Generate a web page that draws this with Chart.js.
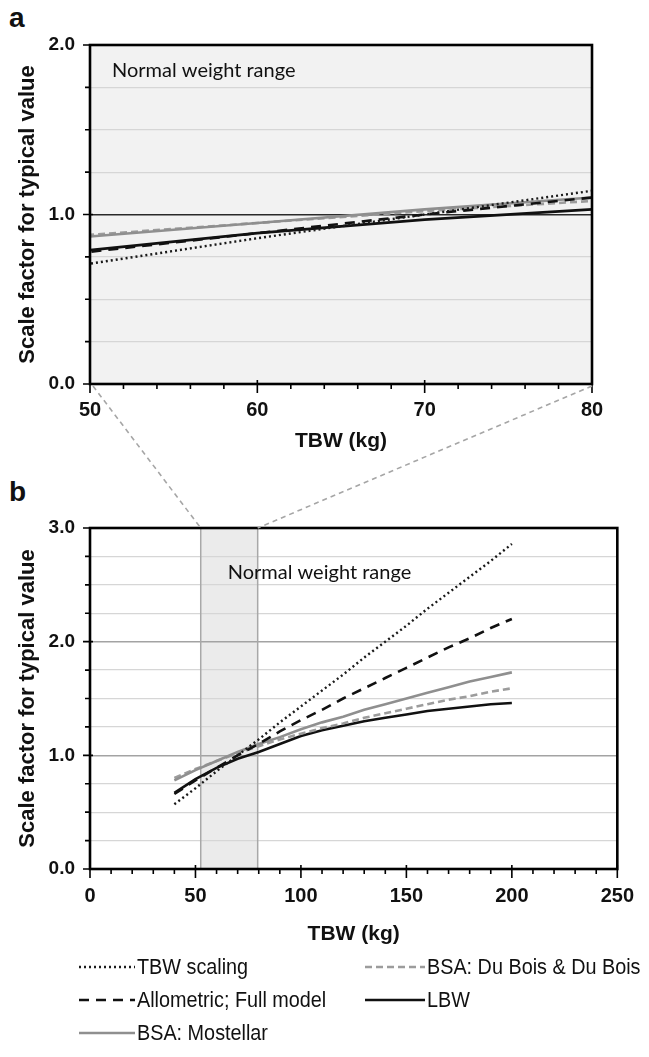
<!DOCTYPE html>
<html><head><meta charset="utf-8">
<script src="https://cdn.jsdelivr.net/npm/chart.js@4.4.1/dist/chart.umd.min.js"></script>
<style>
html,body{margin:0;padding:0;background:#fff;width:649px;height:1057px;overflow:hidden;position:relative;font-family:"Liberation Sans",Arial,sans-serif;}
#wa{position:absolute;left:0;top:0;width:649px;height:460px;}
#wb{position:absolute;left:0;top:470px;width:649px;height:480px;}
#ov{position:absolute;left:0;top:0;width:649px;height:1057px;pointer-events:none;}
.lbl{position:absolute;font-weight:bold;font-size:28px;color:#111;line-height:28px;}
#legend{position:absolute;left:0;top:950px;width:649px;height:107px;}
.li{position:absolute;display:flex;align-items:center;font-family:"Liberation Sans",Arial,sans-serif;font-size:22px;color:#111;white-space:nowrap;}
.li canvas{margin-right:2px;}
.li span{display:inline-block;transform:scaleX(0.9);transform-origin:0 50%;}
</style></head>
<body>
<div class="lbl" style="left:9px;top:4px">a</div>
<div class="lbl" style="left:9px;top:478px">b</div>
<div id="wa"><canvas id="ca"></canvas></div>
<div id="wb"><canvas id="cb"></canvas></div>
<canvas id="ov" width="649" height="1057"></canvas>
<div id="legend"></div>
<script>
// ---- data ----
const weights = [40,50,60,70,80,90,100,110,120,130,140,150,160,170,180,190,200];
const tbwScaling     = [0.57,0.71,0.86,1.00,1.14,1.29,1.43,1.57,1.71,1.86,2.00,2.14,2.29,2.43,2.57,2.71,2.86];
const allometricFull = [0.66,0.78,0.89,1.00,1.10,1.21,1.31,1.40,1.50,1.59,1.68,1.77,1.86,1.95,2.03,2.12,2.20];
const bsaMostellar   = [0.78,0.87,0.95,1.03,1.10,1.16,1.23,1.29,1.34,1.40,1.45,1.50,1.55,1.60,1.65,1.69,1.73];
const bsaDuBois      = [0.80,0.88,0.95,1.02,1.08,1.14,1.19,1.24,1.28,1.33,1.37,1.41,1.45,1.49,1.52,1.56,1.59];
const lbw            = [0.67,0.79,0.89,0.97,1.03,1.10,1.17,1.22,1.26,1.30,1.33,1.36,1.39,1.41,1.43,1.45,1.46];
const seriesNames = ['TBW scaling','Allometric; Full model','BSA: Mostellar','BSA: Du Bois & Du Bois','LBW'];
const normalWeightRange = [52.5, 79.5];
const xRangeA = [50, 80], yRangeA = [0, 2];
const xRangeB = [0, 250], yRangeB = [0, 3];
const bandLabel = 'Normal weight range';
const xTitle = 'TBW (kg)';
const yTitle = 'Scale factor for typical value';

const styles = [
  {color:'#1a1a1a', width:2.4, dash:[2,3]},
  {color:'#111111', width:2.6, dash:[10,7]},
  {color:'#8f8f8f', width:2.6, dash:[]},
  {color:'#9c9c9c', width:2.6, dash:[7,4]},
  {color:'#111111', width:2.6, dash:[]}
];
const seriesValues = [tbwScaling, allometricFull, bsaMostellar, bsaDuBois, lbw];

function makeDatasets(){
  return seriesValues.map((vals,i)=>({
    label: seriesNames[i],
    data: weights.map((w,j)=>({x:w, y:vals[j]})),
    borderColor: styles[i].color,
    borderWidth: styles[i].width,
    borderDash: styles[i].dash,
    pointRadius: 0,
    fill: false,
    tension: 0
  }));
}

const deco = {
  id:'deco',
  beforeDraw(chart, args, o){
    const {ctx, chartArea:a, scales:{x}} = chart;
    ctx.save();
    ctx.fillStyle = o.bg; ctx.fillRect(a.left, a.top, a.width, a.height);
    if (o.band){
      const x1 = x.getPixelForValue(o.band[0]), x2 = x.getPixelForValue(o.band[1]);
      ctx.fillStyle = '#ebebeb'; ctx.fillRect(x1, a.top, x2-x1, a.height);
    }
    ctx.restore();
  },
  beforeDatasetsDraw(chart, args, o){
    const {ctx, chartArea:a, scales:{x}} = chart;
    ctx.save();
    if (o.band){
      const x1 = x.getPixelForValue(o.band[0]), x2 = x.getPixelForValue(o.band[1]);
      ctx.strokeStyle = '#a8a8a8'; ctx.lineWidth = 1.5;
      ctx.beginPath(); ctx.moveTo(x1,a.top); ctx.lineTo(x1,a.bottom); ctx.moveTo(x2,a.top); ctx.lineTo(x2,a.bottom); ctx.stroke();
    }
    ctx.fillStyle = '#111'; ctx.font = '20px Lato, "Open Sans", sans-serif'; ctx.textBaseline = 'middle';
    const tx = o.band ? x.getPixelForValue(o.band[0]) + o.textDx : a.left + o.textDx;
    ctx.fillText(bandLabel, tx, a.top + o.textDy);
    ctx.restore();
  },
  afterDraw(chart, args, o){
    const {ctx, chartArea:a, scales:{x,y}} = chart;
    ctx.save();
    ctx.strokeStyle = '#000'; ctx.lineWidth = 1.6;
    ctx.beginPath();
    const nx = Math.round((x.max - x.min)/o.xMinor);
    for (let i=0;i<=nx;i++){
      const v = x.min + i*o.xMinor, px = x.getPixelForValue(v);
      const major = Math.abs(v/o.xMajor - Math.round(v/o.xMajor)) < 1e-6;
      ctx.moveTo(px, a.bottom + (major ? -4 : 0)); ctx.lineTo(px, a.bottom + (major ? 9 : 5));
    }
    const ny = Math.round((y.max - y.min)/o.yMinor);
    for (let i=0;i<=ny;i++){
      const v = y.min + i*o.yMinor, py = y.getPixelForValue(v);
      const major = Math.abs(v - Math.round(v)) < 1e-6;
      ctx.moveTo(a.left - (major ? 7 : 5), py); ctx.lineTo(a.left + (major ? 3 : 0), py);
    }
    ctx.stroke();
    ctx.lineWidth = 2.6;
    ctx.strokeRect(a.left, a.top, a.width, a.height);
    ctx.restore();
  }
};

function makeOptions(cfg){
  return {
    responsive:true, maintainAspectRatio:false, animation:false,
    layout:{padding:{top:cfg.padTop, right:cfg.padRight, left:0, bottom:0}},
    plugins:{legend:{display:false}, tooltip:{enabled:false},
      deco:{bg:cfg.bg, band:cfg.band, textDx:cfg.textDx, textDy:cfg.textDy,
            xMinor:cfg.xMinor, xMajor:cfg.xMajor, yMinor:0.25}},
    scales:{
      x:{type:'linear', min:cfg.xRange[0], max:cfg.xRange[1],
         ticks:{stepSize:cfg.xMinor, autoSkip:false, maxRotation:0, padding:cfg.xTickPad,
                color:'#111', font:{family:'"Liberation Sans", Arial', size:20, weight:'bold'},
                callback:v => (Math.abs(v % cfg.xMajor) < 1e-6) ? String(v) : ''},
         grid:{display:false, drawTicks:false}, border:{display:false},
         title:{display:true, text:xTitle, color:'#111',
                font:{family:'"Liberation Sans", Arial', size:21, weight:'bold'},
                padding:{top:0, bottom:cfg.xTitlePad}},
         afterFit:s => { s.height = cfg.xHeight; }},
      y:{type:'linear', min:cfg.yRange[0], max:cfg.yRange[1],
         ticks:{stepSize:0.25, autoSkip:false, padding:15, color:'#111',
                font:{family:'"Liberation Sans", Arial', size:19, weight:'bold'},
                callback:v => (Math.abs(v - Math.round(v)) < 1e-6) ? v.toFixed(1) : ''},
         grid:{drawTicks:false,
               color:c => (Math.abs(c.tick.value - Math.round(c.tick.value)) < 1e-6) ? cfg.majorGrid : '#d6d6d6',
               lineWidth:c => (Math.abs(c.tick.value - Math.round(c.tick.value)) < 1e-6) ? 1.6 : 1.2},
         border:{display:false},
         title:{display:true, text:yTitle, color:'#111',
                font:{family:'"Liberation Sans", Arial', size:22, weight:'bold'},
                padding:{top:15, bottom:0}},
         afterFit:s => { s.width = 90; }}
    }
  };
}

const chartA = new Chart(document.getElementById('ca'), {
  type:'line', data:{datasets:makeDatasets()},
  options:makeOptions({padTop:45, padRight:57, bg:'#f2f2f2', band:null, textDx:22, textDy:26,
    xRange:xRangeA, yRange:yRangeA, xMinor:2, xMajor:10, xHeight:76, xTitlePad:6, xTickPad:14, majorGrid:'#2a2a2a'}),
  plugins:[deco]
});
const chartB = new Chart(document.getElementById('cb'), {
  type:'line', data:{datasets:makeDatasets()},
  options:makeOptions({padTop:58, padRight:26, bg:'#ffffff', band:normalWeightRange, textDx:27, textDy:45,
    xRange:xRangeB, yRange:yRangeB, xMinor:10, xMajor:50, xHeight:81, xTitlePad:3, xTickPad:15, majorGrid:'#a3a3a3'}),
  plugins:[deco]
});

// connector lines between panel a and the shaded band of panel b
(function(){
  const ov = document.getElementById('ov').getContext('2d');
  const offA = document.getElementById('wa').offsetTop, offB = document.getElementById('wb').offsetTop;
  const xa = chartA.scales.x, xb = chartB.scales.x;
  ov.strokeStyle = '#a6a6a6'; ov.lineWidth = 1.6; ov.setLineDash([5,4]);
  ov.beginPath();
  ov.moveTo(xa.getPixelForValue(xRangeA[0]) + 3, offA + chartA.chartArea.bottom + 2);
  ov.lineTo(xb.getPixelForValue(normalWeightRange[0]), offB + chartB.chartArea.top);
  ov.moveTo(xa.getPixelForValue(xRangeA[1]), offA + chartA.chartArea.bottom + 2);
  ov.lineTo(xb.getPixelForValue(normalWeightRange[1]), offB + chartB.chartArea.top);
  ov.stroke();
})();

// legend (3 rows x 2 columns, column-major order)
(function(){
  const leg = document.getElementById('legend');
  const cols = [{sx:79, sw:56}, {sx:365, sw:60}];
  const rows = [18, 51, 84];
  chartB.data.datasets.forEach((ds,i)=>{
    const c = Math.floor(i/3), r = i%3;
    const item = document.createElement('div');
    item.className = 'li';
    item.style.left = cols[c].sx + 'px';
    item.style.top = (rows[r] - 14) + 'px';
    const cv = document.createElement('canvas');
    cv.width = cols[c].sw; cv.height = 10;
    const g = cv.getContext('2d');
    g.strokeStyle = ds.borderColor; g.lineWidth = ds.borderWidth; g.setLineDash(ds.borderDash);
    g.beginPath(); g.moveTo(0,5); g.lineTo(cols[c].sw,5); g.stroke();
    const sp = document.createElement('span'); sp.textContent = ds.label;
    item.appendChild(cv); item.appendChild(sp);
    leg.appendChild(item);
  });
})();
</script>
</body></html>
